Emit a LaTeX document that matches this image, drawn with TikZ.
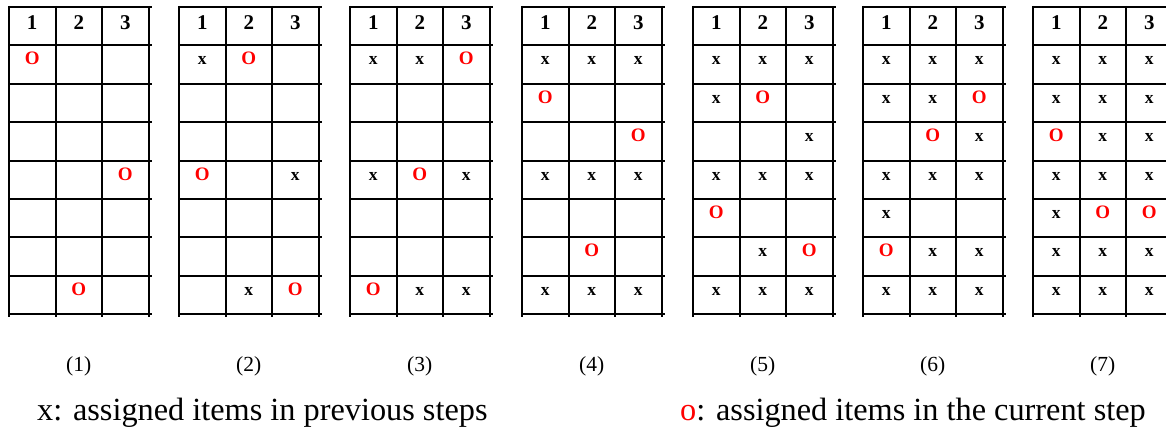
\documentclass[tikz,border=0pt]{standalone}
\usepackage{fontspec}
\setmainfont{Liberation Serif}
\newcommand\symO{\textcolor{red}{\fontsize{19}{20}\selectfont\bfseries O}}
\newcommand\symx{{\fontsize{17.5}{18}\selectfont\bfseries x}}
\tikzset{
  gridline/.style={line width=2pt, black},
  hdr/.style={anchor=base, inner sep=0pt, font=\fontsize{21}{22}\selectfont\bfseries},
  cellmark/.style={anchor=base, inner sep=0pt},
  steplabel/.style={anchor=center, inner sep=0pt, font=\fontsize{21.5}{22}\selectfont},
  legend/.style={anchor=base west, inner sep=0pt, font=\fontsize{32.3}{34}\selectfont}
}
\begin{document}
\begin{tikzpicture}[x=1pt,y=-1pt]
\useasboundingbox (0,0) rectangle (1166,428);
\foreach \g/\xo/\cells in {
  1/9/{1/1/O,4/3/O,7/2/O},
  2/179/{1/1/x,1/2/O,4/1/O,4/3/x,7/2/x,7/3/O},
  3/350/{1/1/x,1/2/x,1/3/O,4/1/x,4/2/O,4/3/x,7/1/O,7/2/x,7/3/x},
  4/522/{1/1/x,1/2/x,1/3/x,2/1/O,3/3/O,4/1/x,4/2/x,4/3/x,6/2/O,7/1/x,7/2/x,7/3/x},
  5/693/{1/1/x,1/2/x,1/3/x,2/1/x,2/2/O,3/3/x,4/1/x,4/2/x,4/3/x,5/1/O,6/2/x,6/3/O,7/1/x,7/2/x,7/3/x},
  6/863/{1/1/x,1/2/x,1/3/x,2/1/x,2/2/x,2/3/O,3/2/O,3/3/x,4/1/x,4/2/x,4/3/x,5/1/x,6/1/O,6/2/x,6/3/x,7/1/x,7/2/x,7/3/x},
  7/1033/{1/1/x,1/2/x,1/3/x,2/1/x,2/2/x,2/3/x,3/1/O,3/2/x,3/3/x,4/1/x,4/2/x,4/3/x,5/1/x,5/2/O,5/3/O,6/1/x,6/2/x,6/3/x,7/1/x,7/2/x,7/3/x}} {
  % grid lines
  \foreach \i in {0,...,8} {
    \draw[gridline] (\xo-1, 7+\i*38.4) -- (\xo+142.5, 7+\i*38.4);
  }
  \foreach \j in {0,...,3} {
    \draw[gridline] (\xo+\j*46.5, 6) -- (\xo+\j*46.5, 316.5);
  }
  % header
  \foreach \j in {1,2,3} {
    \node[hdr] (h\g c\j) at (\xo+\j*46.5-23.25, 29.5) {\j};
  }
  % cells
  \foreach \r/\c/\t in \cells {
    \node[cellmark] (g\g r\r c\c) at (\xo+\c*46.5-23.25, 7+\r*38.4+19.5) {\csname sym\t\endcsname};
  }
  % step label
  \node[steplabel] (lab\g) at (\xo+69.75, 366) {(\g)};
}
\node[legend] (legx) at (37,420) {x: assigned items in previous steps};
\node[legend] (lego) at (680,420) {\textcolor{red}{o}: assigned items in the current step};
\end{tikzpicture}
\end{document}
